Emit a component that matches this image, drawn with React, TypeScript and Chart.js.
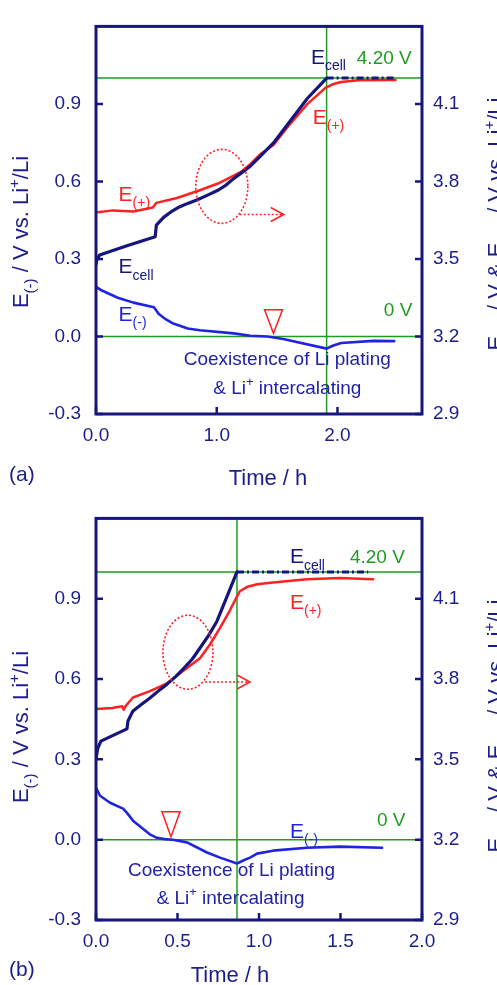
import { useEffect, useRef } from "react";
import { Chart, registerables } from "chart.js";

Chart.register(...registerables);

// ---------------- data ----------------
// Panel (a)
const A_CELL_T = [0, 0.01, 0.03, 0.25, 0.49, 0.5, 0.56, 0.62, 0.68, 0.76, 0.84, 0.92, 1.01, 1.08, 1.14, 1.21, 1.28, 1.36, 1.47, 1.61, 1.75, 1.91];
const A_CELL_V = [3.48, 3.5, 3.515, 3.55, 3.586, 3.631, 3.661, 3.682, 3.699, 3.715, 3.729, 3.746, 3.766, 3.787, 3.811, 3.835, 3.86, 3.897, 3.949, 4.035, 4.121, 4.2];
const A_HOLD_T = [1.91, 2.48];
const A_HOLD_V = [4.2, 4.2];
const A_POS_T = [0, 0.14, 0.31, 0.47, 0.5, 0.67, 0.86, 1.01, 1.1, 1.2, 1.28, 1.36, 1.47, 1.61, 1.75, 1.9, 1.96, 2.03, 2.17, 2.48];
const A_POS_V = [3.68, 3.688, 3.684, 3.699, 3.717, 3.736, 3.766, 3.792, 3.813, 3.837, 3.868, 3.905, 3.941, 4.024, 4.099, 4.162, 4.176, 4.185, 4.192, 4.193];
const A_NEG_T = [0, 0.04, 0.18, 0.31, 0.48, 0.52, 0.58, 0.64, 0.76, 0.86, 1.14, 1.28, 1.42, 1.55, 1.91, 1.96, 2.03, 2.3, 2.47];
const A_NEG_V = [0.192, 0.18, 0.15, 0.131, 0.113, 0.087, 0.066, 0.05, 0.031, 0.024, 0.012, 0.003, 0.0, -0.01, -0.047, -0.036, -0.025, -0.017, -0.018];
const A_CUTOFF_T = 1.91;
const A_X_TICKS = [0, 1, 2];

// Panel (b)
const B_CELL_T = [0, 0.01, 0.03, 0.19, 0.196, 0.227, 0.28, 0.331, 0.38, 0.436, 0.49, 0.534, 0.59, 0.638, 0.69, 0.742, 0.804, 0.865];
const B_CELL_V = [3.5, 3.54, 3.568, 3.614, 3.643, 3.681, 3.706, 3.729, 3.754, 3.781, 3.81, 3.837, 3.874, 3.916, 3.962, 4.016, 4.109, 4.2];
const B_HOLD_T = [0.865, 1.67];
const B_HOLD_V = [4.2, 4.2];
const B_POS_T = [0, 0.1, 0.16, 0.17, 0.18, 0.227, 0.331, 0.436, 0.534, 0.638, 0.7, 0.76, 0.82, 0.865, 0.883, 0.93, 0.988, 1.086, 1.294, 1.497, 1.7];
const B_POS_V = [3.688, 3.692, 3.698, 3.685, 3.698, 3.731, 3.755, 3.784, 3.83, 3.878, 3.93, 3.99, 4.055, 4.109, 4.128, 4.145, 4.154, 4.161, 4.173, 4.177, 4.173];
const B_NEG_T = [0, 0.025, 0.086, 0.166, 0.19, 0.227, 0.288, 0.33, 0.374, 0.42, 0.472, 0.558, 0.681, 0.761, 0.865, 0.91, 0.945, 0.988, 1.086, 1.294, 1.497, 1.755];
const B_NEG_V = [0.194, 0.164, 0.138, 0.116, 0.1, 0.071, 0.041, 0.02, 0.007, 0.002, 0.0, -0.01, -0.048, -0.067, -0.089, -0.076, -0.067, -0.052, -0.041, -0.03, -0.026, -0.03];
const B_CUTOFF_T = 0.865;
const B_X_TICKS = [0, 0.5, 1, 1.5, 2];

// shared axes
const LEFT_TICKS = [-0.3, 0, 0.3, 0.6, 0.9];
const RIGHT_TICKS = [2.9, 3.2, 3.5, 3.8, 4.1];
const LEFT_MIN = -0.3;
const LEFT_MAX = 1.2;
const RIGHT_MIN = 2.9;
const RIGHT_MAX = 4.4;
const CUTOFF_LEVEL = 1.0; // 4.20 V on the right axis
const ZERO_LEVEL = 0.0;

// ---------------- styles ----------------
const FONT = '"Liberation Sans", Arial, Helvetica, sans-serif';
const NAVY = "#1c1c8c";
const FRAME = "#16167c";
const CELL = "#15157c";
const BLUE = "#2024e0";
const RED = "#ff2020";
const GREEN = "#1f9c1f";
const NOTE = "#2222a8";
const W = 497;

type Seg = [string, number];

function segFont(size: number, kind: number) {
  const s = kind === 0 ? size : Math.round(size * 0.68);
  return `${s}px ${FONT}`;
}

function drawRich(ctx: CanvasRenderingContext2D, segs: Seg[], x: number, y: number, size: number, color: string, align: string) {
  ctx.save();
  ctx.fillStyle = color;
  ctx.textBaseline = "alphabetic";
  ctx.textAlign = "left";
  let total = 0;
  const widths: number[] = [];
  for (const [t, k] of segs) {
    ctx.font = segFont(size, k);
    const w = ctx.measureText(t).width;
    widths.push(w);
    total += w;
  }
  let cx = align === "center" ? x - total / 2 : x;
  segs.forEach(([t, k], i) => {
    ctx.font = segFont(size, k);
    const dy = k === -1 ? size * 0.3 : k === 1 ? -size * 0.42 : 0;
    ctx.fillText(t, cx, y + dy);
    cx += widths[i];
  });
  ctx.restore();
}

const LEFT_TITLE: Seg[] = [["E", 0], ["(-)", -1], [" / V vs. Li", 0], ["+", 1], ["/Li", 0]];
const RIGHT_TITLE: Seg[] = [["E", 0], ["(+)", -1], [" / V & E", 0], ["cell", -1], [" / V vs. Li", 0], ["+", 1], ["/Li", 0]];
const COEX1: Seg[] = [["Coexistence of Li plating", 0]];
const COEX2: Seg[] = [["& Li", 0], ["+", 1], [" intercalating", 0]];
const L_CELL: Seg[] = [["E", 0], ["cell", -1]];
const L_POS: Seg[] = [["E", 0], ["(+)", -1]];
const L_NEG: Seg[] = [["E", 0], ["(-)", -1]];

type Ann =
  | { kind: "text"; segs: Seg[]; t: number; v: number; size: number; color: string; align: string }
  | { kind: "tri"; t: number; vTop: number; vTip: number }
  | { kind: "ell"; t: number; v: number; rx: number; ry: number }
  | { kind: "arrow"; t0: number; t1: number; v: number };

interface Panel {
  height: number;
  padTop: number;
  xAxisH: number;
  xMax: number;
  xTicks: number[];
  cellT: number[]; cellV: number[];
  holdT: number[]; holdV: number[];
  posT: number[]; posV: number[];
  negT: number[]; negV: number[];
  cutT: number;
  leftTitleY: number;
  rightTitleY: number;
  timeX: number;
  timeY: number;
  letter: string;
  letterY: number;
  anns: Ann[];
}

const PANEL_A: Panel = {
  height: 492, padTop: 13, xAxisH: 78, xMax: 2.7, xTicks: A_X_TICKS,
  cellT: A_CELL_T, cellV: A_CELL_V, holdT: A_HOLD_T, holdV: A_HOLD_V,
  posT: A_POS_T, posV: A_POS_V, negT: A_NEG_T, negV: A_NEG_V, cutT: A_CUTOFF_T,
  leftTitleY: 232, rightTitleY: 224, timeX: 268, timeY: 485, letter: "(a)", letterY: 481,
  anns: [
    { kind: "text", segs: L_CELL, t: 1.78, v: 1.056, size: 21, color: CELL, align: "left" },
    { kind: "text", segs: [["4.20 V", 0]], t: 2.16, v: 1.056, size: 19, color: GREEN, align: "left" },
    { kind: "text", segs: L_POS, t: 1.795, v: 0.824, size: 21, color: RED, align: "left" },
    { kind: "text", segs: L_POS, t: 0.187, v: 0.525, size: 21, color: RED, align: "left" },
    { kind: "text", segs: L_CELL, t: 0.187, v: 0.244, size: 21, color: CELL, align: "left" },
    { kind: "text", segs: L_NEG, t: 0.187, v: 0.061, size: 21, color: BLUE, align: "left" },
    { kind: "text", segs: [["0 V", 0]], t: 2.384, v: 0.08, size: 19, color: GREEN, align: "left" },
    { kind: "tri", t: 1.47, vTop: 0.103, vTip: 0.012 },
    { kind: "text", segs: COEX1, t: 1.584, v: -0.111, size: 19, color: NOTE, align: "center" },
    { kind: "text", segs: COEX2, t: 1.584, v: -0.223, size: 19, color: NOTE, align: "center" },
    { kind: "ell", t: 1.042, v: 0.581, rx: 26, ry: 37 },
    { kind: "arrow", t0: 1.19, t1: 1.555, v: 0.472 },
  ],
};

const PANEL_B: Panel = {
  height: 493, padTop: 26, xAxisH: 65, xMax: 2.0, xTicks: B_X_TICKS,
  cellT: B_CELL_T, cellV: B_CELL_V, holdT: B_HOLD_T, holdV: B_HOLD_V,
  posT: B_POS_T, posV: B_POS_V, negT: B_NEG_T, negV: B_NEG_V, cutT: B_CUTOFF_T,
  leftTitleY: 235, rightTitleY: 234, timeX: 230, timeY: 490, letter: "(b)", letterY: 484,
  anns: [
    { kind: "text", segs: L_CELL, t: 1.19, v: 1.032, size: 21, color: CELL, align: "left" },
    { kind: "text", segs: [["4.20 V", 0]], t: 1.558, v: 1.032, size: 19, color: GREEN, align: "left" },
    { kind: "text", segs: L_POS, t: 1.19, v: 0.861, size: 21, color: RED, align: "left" },
    { kind: "text", segs: L_NEG, t: 1.19, v: 0.007, size: 21, color: BLUE, align: "left" },
    { kind: "text", segs: [["0 V", 0]], t: 1.724, v: 0.052, size: 19, color: GREEN, align: "left" },
    { kind: "tri", t: 0.46, vTop: 0.104, vTip: 0.011 },
    { kind: "text", segs: COEX1, t: 0.831, v: -0.134, size: 19, color: NOTE, align: "center" },
    { kind: "text", segs: COEX2, t: 0.825, v: -0.239, size: 19, color: NOTE, align: "center" },
    { kind: "ell", t: 0.564, v: 0.7, rx: 25, ry: 37 },
    { kind: "arrow", t0: 0.669, t1: 0.945, v: 0.589 },
  ],
};

function zip(t: number[], v: number[]) {
  return t.map((x, i) => ({ x, y: v[i] }));
}

function makePlugin(p: Panel) {
  return {
    id: "decor",
    afterDraw(chart: any) {
      const ctx: CanvasRenderingContext2D = chart.ctx;
      const { left, right, top, bottom } = chart.chartArea;
      const xs = chart.scales.x;
      const ys = chart.scales.y;
      const y2 = chart.scales.y2;
      ctx.save();
      // frame
      ctx.strokeStyle = FRAME;
      ctx.lineWidth = 3;
      ctx.strokeRect(left, top, right - left, bottom - top);
      // inward ticks
      ctx.lineWidth = 2.5;
      ctx.beginPath();
      for (const v of LEFT_TICKS) {
        const py = ys.getPixelForValue(v);
        ctx.moveTo(left, py);
        ctx.lineTo(left + 7, py);
      }
      for (const v of RIGHT_TICKS) {
        const py = y2.getPixelForValue(v);
        ctx.moveTo(right, py);
        ctx.lineTo(right - 7, py);
      }
      for (const v of p.xTicks) {
        const px = xs.getPixelForValue(v);
        ctx.moveTo(px, bottom);
        ctx.lineTo(px, bottom - 7);
      }
      ctx.stroke();

      // axis titles
      ctx.save();
      ctx.translate(28, p.leftTitleY);
      ctx.rotate(-Math.PI / 2);
      drawRich(ctx, LEFT_TITLE, 0, 0, 22, NAVY, "center");
      ctx.restore();
      ctx.save();
      ctx.translate(503, p.rightTitleY);
      ctx.rotate(-Math.PI / 2);
      drawRich(ctx, RIGHT_TITLE, 0, 0, 22, NAVY, "center");
      ctx.restore();
      drawRich(ctx, [["Time / h", 0]], p.timeX, p.timeY, 22, NAVY, "center");
      drawRich(ctx, [[p.letter, 0]], 9, p.letterY, 21, NAVY, "left");

      // annotations
      for (const a of p.anns) {
        if (a.kind === "text") {
          drawRich(ctx, a.segs, xs.getPixelForValue(a.t), ys.getPixelForValue(a.v), a.size, a.color, a.align);
        } else if (a.kind === "tri") {
          const cx = xs.getPixelForValue(a.t);
          const ty = ys.getPixelForValue(a.vTop);
          const by = ys.getPixelForValue(a.vTip);
          ctx.strokeStyle = RED;
          ctx.lineWidth = 1.5;
          ctx.setLineDash([]);
          ctx.beginPath();
          ctx.moveTo(cx - 9, ty);
          ctx.lineTo(cx + 9, ty);
          ctx.lineTo(cx, by);
          ctx.closePath();
          ctx.stroke();
        } else if (a.kind === "ell") {
          ctx.strokeStyle = RED;
          ctx.lineWidth = 1.6;
          ctx.setLineDash([2, 2]);
          ctx.beginPath();
          ctx.ellipse(xs.getPixelForValue(a.t), ys.getPixelForValue(a.v), a.rx, a.ry, 0, 0, Math.PI * 2);
          ctx.stroke();
          ctx.setLineDash([]);
        } else if (a.kind === "arrow") {
          const x0 = xs.getPixelForValue(a.t0);
          const x1 = xs.getPixelForValue(a.t1);
          const py = ys.getPixelForValue(a.v);
          ctx.strokeStyle = RED;
          ctx.lineWidth = 1.6;
          ctx.setLineDash([2, 2]);
          ctx.beginPath();
          ctx.moveTo(x0, py);
          ctx.lineTo(x1, py);
          ctx.stroke();
          ctx.setLineDash([]);
          ctx.lineWidth = 1.5;
          ctx.beginPath();
          ctx.moveTo(x1 - 13, py - 7);
          ctx.lineTo(x1, py);
          ctx.lineTo(x1 - 13, py + 7);
          ctx.stroke();
        }
      }
      ctx.restore();
    },
  };
}

function buildConfig(p: Panel): any {
  const line = (data: any, axis: string, color: string, width: number, extra: any = {}) => ({
    data,
    yAxisID: axis,
    borderColor: color,
    backgroundColor: color,
    borderWidth: width,
    pointRadius: 0,
    fill: false,
    tension: 0,
    borderJoinStyle: "round",
    borderCapStyle: "round",
    ...extra,
  });
  const tickFont = { family: FONT, size: 19 };
  const noGrid = { display: false, drawTicks: false, tickLength: 0 };
  return {
    type: "line",
    data: {
      datasets: [
        line(zip(p.cellT, p.cellV), "y2", CELL, 3.2),
        line(zip(p.holdT, p.holdV), "y2", CELL, 3, { borderDash: [7, 3, 2, 3], borderCapStyle: "butt" }),
        line(zip(p.posT, p.posV), "y2", RED, 2.5),
        line(zip(p.negT, p.negV), "y", BLUE, 2.6),
        line([{ x: 0, y: CUTOFF_LEVEL }, { x: p.xMax, y: CUTOFF_LEVEL }], "y", GREEN, 1.5, { borderCapStyle: "butt" }),
        line([{ x: 0, y: ZERO_LEVEL }, { x: p.xMax, y: ZERO_LEVEL }], "y", GREEN, 1.5, { borderCapStyle: "butt" }),
        line([{ x: p.cutT, y: LEFT_MIN }, { x: p.cutT, y: LEFT_MAX }], "y", GREEN, 1.5, { borderCapStyle: "butt" }),
      ],
    },
    options: {
      animation: false,
      responsive: false,
      maintainAspectRatio: false,
      layout: { padding: { top: p.padTop, left: 0, right: 0, bottom: 0 } },
      plugins: { legend: { display: false }, tooltip: { enabled: false } },
      scales: {
        x: {
          type: "linear",
          min: 0,
          max: p.xMax,
          afterBuildTicks: (s: any) => { s.ticks = p.xTicks.map((v) => ({ value: v })); },
          afterFit: (s: any) => { s.height = p.xAxisH; },
          grid: noGrid,
          border: { display: false },
          ticks: { color: NAVY, font: tickFont, padding: 10, maxRotation: 0, autoSkip: false, callback: (v: any) => Number(v).toFixed(1) },
        },
        y: {
          type: "linear",
          position: "left",
          min: LEFT_MIN,
          max: LEFT_MAX,
          afterBuildTicks: (s: any) => { s.ticks = LEFT_TICKS.map((v) => ({ value: v })); },
          afterFit: (s: any) => { s.width = 96; },
          grid: noGrid,
          border: { display: false },
          ticks: { color: NAVY, font: tickFont, padding: 15, autoSkip: false, callback: (v: any) => Number(v).toFixed(1) },
        },
        y2: {
          type: "linear",
          position: "right",
          min: RIGHT_MIN,
          max: RIGHT_MAX,
          afterBuildTicks: (s: any) => { s.ticks = RIGHT_TICKS.map((v) => ({ value: v })); },
          afterFit: (s: any) => { s.width = W - 422; },
          grid: noGrid,
          border: { display: false },
          ticks: { color: NAVY, font: tickFont, padding: 11, autoSkip: false, callback: (v: any) => Number(v).toFixed(1) },
        },
      },
    },
    plugins: [makePlugin(p)],
  };
}

function PanelChart({ p }: { p: Panel }) {
  const ref = useRef<HTMLCanvasElement>(null);
  useEffect(() => {
    if (!ref.current) return;
    const chart = new Chart(ref.current, buildConfig(p));
    return () => chart.destroy();
  }, [p]);
  return <canvas ref={ref} width={W} height={p.height} style={{ display: "block", width: W, height: p.height }} />;
}

export default function App() {
  return (
    <div style={{ position: "absolute", left: 0, top: 0, width: W, background: "#fff" }}>
      <PanelChart p={PANEL_A} />
      <PanelChart p={PANEL_B} />
    </div>
  );
}
